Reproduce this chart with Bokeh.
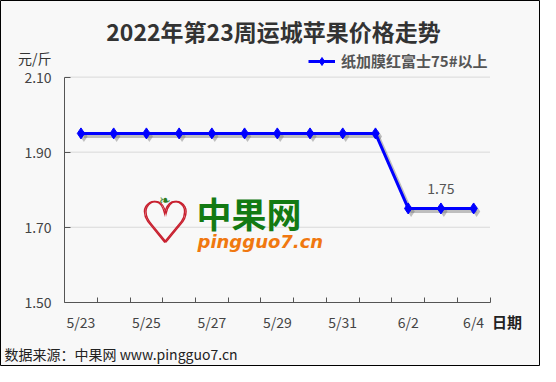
from bokeh.plotting import figure
from bokeh.models import (FixedTicker, Label, Legend, LegendItem, ColumnDataSource,
                          Range1d, NumeralTickFormatter)
from bokeh.transform import dodge
from bokeh.core.properties import value
from bokeh.embed import file_html
from bokeh.resources import INLINE

# ---- data ----
dates = ["5/23", "5/24", "5/25", "5/26", "5/27", "5/28", "5/29",
         "5/30", "5/31", "6/1", "6/2", "6/3", "6/4"]
prices = [1.95, 1.95, 1.95, 1.95, 1.95, 1.95, 1.95,
          1.95, 1.95, 1.95, 1.75, 1.75, 1.75]
shown_dates = ["5/23", "5/25", "5/27", "5/29", "5/31", "6/2", "6/4"]
y_ticks = [1.50, 1.70, 1.90, 2.10]
labelled_dates = ["6/3"]
series_name = "纸加膜红富士75#以上"
title_text = "2022年第23周运城苹果价格走势"
unit_text = "元/斤"
x_title = "日期"
source_note = "数据来源：中果网 www.pingguo7.cn"

FONT = "Noto Sans CJK SC"
BG = "#f8f8f8"
BLUE = "#0000ff"

# ---- layout (canvas pixels) ----
W, H = 540, 366
PL, PR, PT, PB = 64.1, 489.5, 76.6, 301.8   # plot-area edges, canvas px from top-left

n = len(dates)
x0, x1 = -0.5, n - 0.5
y0, y1 = y_ticks[0], y_ticks[-1]
kx = (x1 - x0) / (PR - PL)
ky = (y1 - y0) / (PB - PT)
x_range = Range1d(x0 - PL * kx, x1 + (W - PR) * kx)
y_range = Range1d(y0 - (H - PB) * ky, y1 + PT * ky)

def sy(top):  # canvas-from-top -> screen-from-bottom
    return H - top

xs = list(range(n))
src = ColumnDataSource(dict(x=xs, y=prices))

p = figure(width=W, height=H, x_range=x_range, y_range=y_range,
           output_backend="svg", toolbar_location=None, title=None,
           min_border=0)
p.background_fill_color = BG
p.border_fill_color = BG
p.outline_line_color = "#000000"
p.outline_line_width = 1

# axes, placed at the plot-area edges
p.xaxis.fixed_location = y0
p.yaxis.fixed_location = x0
p.xaxis.bounds = (x0, x1)
p.yaxis.bounds = (y0, y1)
p.xaxis.ticker = FixedTicker(ticks=[dates.index(d) for d in shown_dates],
                             minor_ticks=[i + 0.5 for i in xs])
p.xaxis.major_label_overrides = {dates.index(d): d for d in shown_dates}
p.xaxis.major_tick_in = 0
p.xaxis.major_tick_out = 0
p.xaxis.minor_tick_in = 5
p.xaxis.minor_tick_out = 0
p.xaxis.minor_tick_line_color = "#555555"
p.xaxis.major_label_standoff = 10
p.yaxis.ticker = FixedTicker(ticks=y_ticks)
p.yaxis.formatter = NumeralTickFormatter(format="0.00")
p.yaxis.major_tick_in = 6
p.yaxis.major_tick_out = 0
p.yaxis.minor_tick_line_color = None
p.yaxis.major_label_standoff = 13
for ax in (p.xaxis, p.yaxis):
    ax.axis_line_color = "#555555"
    ax.major_tick_line_color = "#555555"
    ax.major_label_text_font = FONT
    ax.major_label_text_font_size = "14px"
    ax.major_label_text_color = "#444444"
p.xgrid.grid_line_color = None
p.ygrid.grid_line_color = None

# horizontal grid lines across the plot area
gy = y_ticks[1:]
p.segment(x0=[x0] * len(gy), x1=[x1] * len(gy), y0=gy, y1=gy,
          line_color="#d9d9d9", line_width=1, level="underlay")

# watermark
for dx in (0, 1.5):
    p.add_layout(Label(x=164 + dx, y=sy(222), x_units="screen", y_units="screen",
                       text="♡", text_font="DejaVu Sans", text_font_size="58px",
                       text_font_style="bold", text_color="#c8202f",
                       text_align="center", text_baseline="middle"))
p.add_layout(Label(x=164, y=sy(199), x_units="screen", y_units="screen", text="❧",
                   text_font="DejaVu Sans", text_font_size="14px",
                   text_color="#2e7d1e", text_align="center", text_baseline="middle"))
p.add_layout(Label(x=196, y=sy(211.7), x_units="screen", y_units="screen", text="中果网",
                   text_font=FONT, text_font_size="35px",
                   text_font_style="bold", text_color="#137a13",
                   text_align="left", text_baseline="middle"))
p.add_layout(Label(x=197, y=sy(241.4), x_units="screen", y_units="screen",
                   text="pingguo7.cn", text_font="DejaVu Sans", text_font_size="18px",
                   text_font_style="bold italic", text_color="#f07810",
                   text_align="left", text_baseline="middle"))

# shadow
p.line(x=dodge("x", 0.09, range=p.x_range), y=dodge("y", -0.008, range=p.y_range),
       source=src, line_color="#777777", line_alpha=0.45, line_width=3)
p.scatter(x=dodge("x", 0.09, range=p.x_range), y=dodge("y", -0.008, range=p.y_range),
          source=src, marker="diamond", size=11,
          fill_color="#777777", fill_alpha=0.45, line_color=None)
# series
ln = p.line("x", "y", source=src, line_color=BLUE, line_width=3)
mk = p.scatter("x", "y", source=src, marker="diamond", size=11,
               fill_color=BLUE, line_color=BLUE, line_width=1)

# value label
li = [dates.index(d) for d in labelled_dates]
p.text(x=li, y=[prices[i] for i in li], text=[f"{prices[i]:.2f}" for i in li],
       text_font=value(FONT), text_font_size="14px", text_color="#555555",
       text_align="center", text_baseline="middle", y_offset=-20)

# legend
leg = Legend(items=[LegendItem(label=series_name, renderers=[ln, mk])],
             location=(308, sy(71.3)), orientation="horizontal",
             glyph_width=27, glyph_height=20, label_height=20, label_standoff=6,
             padding=0, margin=0, spacing=0, border_line_color=None,
             background_fill_alpha=0, label_text_font=FONT,
             label_text_font_size="15px", label_text_font_style="bold",
             label_text_color="#555555")
p.add_layout(leg, "center")

# texts
p.add_layout(Label(x=273, y=sy(30), x_units="screen", y_units="screen", text=title_text,
                   text_font=FONT, text_font_size="23px", text_font_style="bold",
                   text_color="#333333", text_align="center", text_baseline="middle"))
p.add_layout(Label(x=17.5, y=sy(57.5), x_units="screen", y_units="screen", text=unit_text,
                   text_font=FONT, text_font_size="14px",
                   text_color="#333333", text_align="left", text_baseline="middle"))
p.add_layout(Label(x=491.5, y=sy(321), x_units="screen", y_units="screen", text=x_title,
                   text_font=FONT, text_font_size="15px", text_font_style="bold",
                   text_color="#222222", text_align="left", text_baseline="middle"))
p.add_layout(Label(x=4, y=sy(353.5), x_units="screen", y_units="screen", text=source_note,
                   text_font=FONT, text_font_size="14px",
                   text_color="#222222", text_align="left", text_baseline="middle"))

open("out.html", "w").write(file_html(p, INLINE))
